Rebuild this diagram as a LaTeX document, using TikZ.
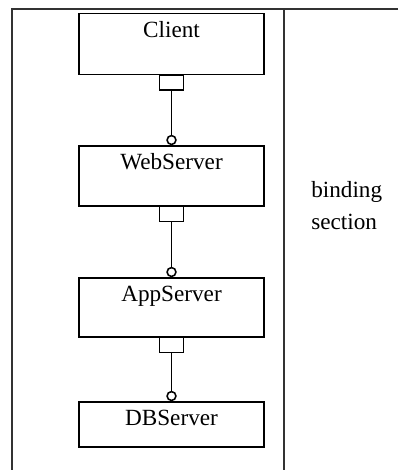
\documentclass[tikz,border=0pt]{standalone}
\usepackage{fontspec}
\setmainfont{Liberation Serif}
\usetikzlibrary{arrows.meta, positioning, calc}
\definecolor{framegray}{RGB}{50, 50, 50}

\begin{document}
\begin{tikzpicture}[
  every node/.style={font=\fontsize{16.5}{20}\selectfont},
  comp/.style={draw=black, line width=1.1pt, minimum width=4.625cm, inner sep=0pt},
  port/.style={draw=black, line width=1.1pt, fill=white, minimum width=0.6cm, minimum height=0.375cm, inner sep=0pt},
  lbl/.style={anchor=base, inner sep=0pt},
  note/.style={anchor=base west, inner sep=0pt},
  frame/.style={draw=framegray, line width=1.5pt},
  wire/.style={-{Circle[open, length=0.26cm, width=0.26cm]}, line width=1.1pt}
]
  \useasboundingbox (0,0) rectangle (9.95,-11.75);

  % frame and divider
  \draw[frame] (9.95,-0.225) -- (0.3,-0.225) -- (0.3,-11.75);
  \draw[frame] (7.1,-0.225) -- (7.1,-11.75);

  % components
  \node[comp, minimum height=1.525cm] (client) at (4.2875, -1.095)   {};
  \node[comp, minimum height=1.5cm]   (web)    at (4.2875, -4.4)     {};
  \node[comp, minimum height=1.475cm] (app)    at (4.2875, -7.6875)  {};
  \node[comp, minimum height=1.125cm] (db)     at (4.2875, -10.6125) {};

  \node[lbl] (clientl) at ([yshift=-0.6125cm]client.north) {Client};
  \node[lbl] (webl)    at ([yshift=-0.6125cm]web.north)    {WebServer};
  \node[lbl] (appl)    at ([yshift=-0.6125cm]app.north)    {AppServer};
  \node[lbl] (dbl)     at ([yshift=-0.6125cm]db.north)     {DBServer};

  % ports
  \node[port, anchor=north] (clientp) at ([yshift=0.025cm]client.south) {};
  \node[port, anchor=north] (webp)    at ([yshift=0.025cm]web.south)    {};
  \node[port, anchor=north] (appp)    at ([yshift=0.025cm]app.south)    {};

  \draw[wire] (clientp) -- (web);
  \draw[wire] (webp) -- (app);
  \draw[wire] (appp) -- (db);

  \node[note] (bind) at (7.775, -4.925) {binding};
  \node[note] (sect) at (7.775, -5.725) {section};
\end{tikzpicture}
\end{document}
